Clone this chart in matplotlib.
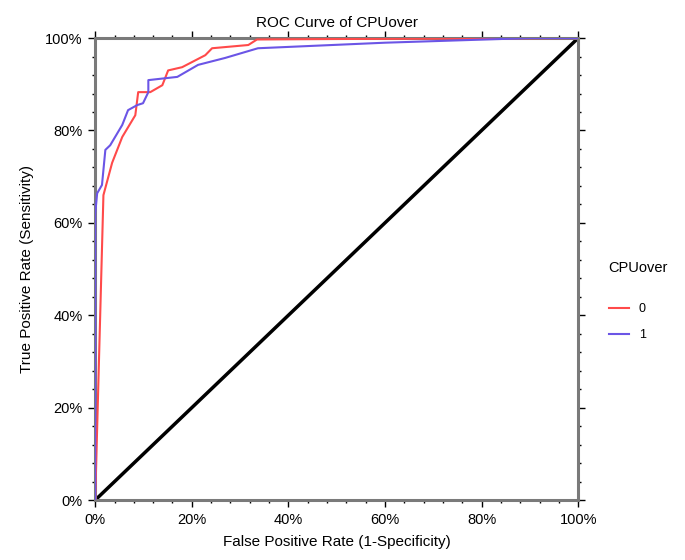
import numpy as np
import matplotlib.pyplot as plt
from matplotlib.ticker import MultipleLocator, FuncFormatter

plt.rcParams['font.family'] = ['Liberation Sans', 'DejaVu Sans']

# ROC points (false positive rate, true positive rate)
fpr_0 = [0.0, 0.017, 0.035, 0.056, 0.083, 0.089, 0.114, 0.139, 0.151, 0.18, 0.228, 0.242, 0.317, 0.335, 0.5, 1.0]
tpr_0 = [0.0, 0.66, 0.73, 0.786, 0.833, 0.883, 0.883, 0.898, 0.93, 0.937, 0.963, 0.978, 0.985, 0.997, 0.998, 1.0]
fpr_1 = [0.0, 0.0, 0.004, 0.014, 0.021, 0.031, 0.056, 0.068, 0.087, 0.099, 0.11, 0.11, 0.17, 0.213, 0.269, 0.337, 0.6, 0.9, 1.0]
tpr_1 = [0.0, 0.62, 0.664, 0.682, 0.758, 0.768, 0.812, 0.844, 0.855, 0.859, 0.883, 0.909, 0.916, 0.942, 0.957, 0.978, 0.99, 1.0, 1.0]
groups = ['0', '1']
colors = ['#ff4a4a', '#6b55e6']

fig = plt.figure(figsize=(6.85, 5.6), dpi=100)
ax = fig.add_axes([0.139, 0.107, 0.705, 0.825])

ax.plot([0, 1], [0, 1], color='black', lw=2.5, zorder=2)
ax.plot(fpr_0, tpr_0, color=colors[0], lw=1.5, label=groups[0], zorder=3)
ax.plot(fpr_1, tpr_1, color=colors[1], lw=1.5, label=groups[1], zorder=3)

ax.set_xlim(0, 1)
ax.set_ylim(0, 1)
pct = FuncFormatter(lambda v, p: f'{v*100:.0f}%')
for axis in (ax.xaxis, ax.yaxis):
    axis.set_major_locator(MultipleLocator(0.2))
    axis.set_minor_locator(MultipleLocator(0.04))
    axis.set_major_formatter(pct)
ax.tick_params(which='both', direction='out', top=True, right=True,
               labeltop=False, labelright=False, labelsize=10.5, color='black', width=1)
ax.tick_params(which='major', length=5, pad=4)
ax.tick_params(which='minor', length=2.5)
for s in ax.spines.values():
    s.set_color('#7a7a7a')
    s.set_linewidth(2.2)

ax.set_title('ROC Curve of CPUover', fontsize=11, pad=8)
ax.set_xlabel('False Positive Rate (1-Specificity)', fontsize=11, labelpad=6)
ax.set_ylabel('True Positive Rate (Sensitivity)', fontsize=11, labelpad=8)

leg = ax.legend(title='CPUover', loc='center left', bbox_to_anchor=(1.04, 0.43),
                frameon=False, fontsize=9, title_fontsize=10.5, handlelength=1.6,
                labelspacing=1.15)
leg._legend_box.align = 'left'
leg._legend_box.sep = 20

fig.savefig('out.png', dpi=100, facecolor='white')
